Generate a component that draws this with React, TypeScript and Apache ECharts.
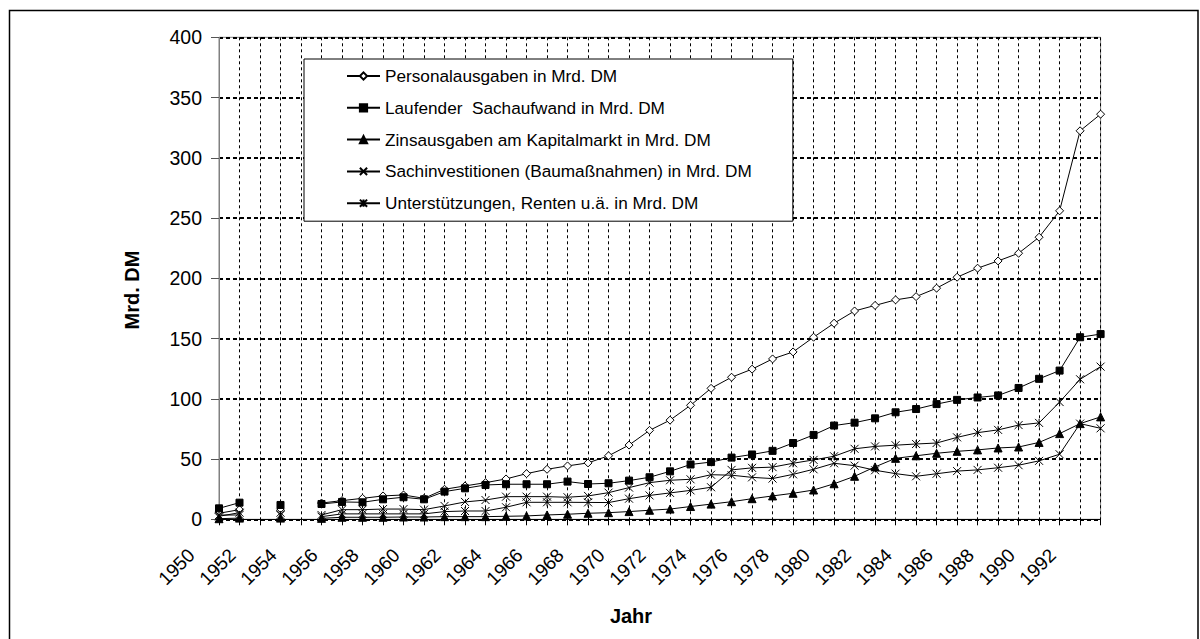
import React, { useEffect, useRef } from "react";
import * as echarts from "echarts";

const years: string[] = [];
for (let y = 1950; y <= 1993; y++) years.push(String(y));

const personal = [
  5, 8, null, 7.5, null, 13.5, 15.5, 17.4, 19.4, 20.2,
  17.4, 24.9, 27.7, 30.4, 33.5, 37.9, 41.5, 44.3, 46.8, 52.7,
  61.6, 73.8, 82.3, 94.6, 108.7, 117.9, 124.6, 133.1, 138.9, 151.1,
  162.7, 172.9, 177.5, 182.1, 184.8, 191.8, 200.9, 208.4, 214.4, 220.8,
  234.1, 256, 322.4, 336.2,
];
const laufend = [
  9.1, 13.8, null, 11.9, null, 12.7, 14.4, 14.1, 16.6, 18.3,
  16.6, 23.0, 25.7, 28.5, 29.1, 29.1, 29.1, 31.3, 29.3, 29.9,
  32.1, 34.9, 39.8, 45.5, 47.5, 51.2, 53.8, 56.8, 63.3, 70,
  77.8, 80.2, 83.8, 88.8, 91.5, 95.6, 99.1, 101.1, 102.8, 109,
  116.6, 123.4, 151.1, 153.7,
];
const zins = [
  0.5, 1.0, null, 1.0, null, 0.8, 1.7, 1.7, 1.7, 1.9,
  1.9, 2.2, 2.2, 2.2, 2.5, 2.8, 3.6, 4.2, 5.0, 5.5,
  6.4, 7.5, 8.5, 10.6, 12.6, 14.6, 17.1, 19.4, 21.6, 24.3,
  29.5, 35.7, 43.5, 50.6, 52.7, 54.8, 56.4, 57.6, 59.2, 60,
  63.8, 71.1, 79.4, 85,
];
const sachinv = [
  2.5, 5.5, null, 5.5, null, 3.6, 8, 8, 8.5, 8.5,
  8, 11.1, 14.4, 16.0, 18.8, 18.8, 18.8, 18.3, 19.4, 22.1,
  26.3, 30.4, 32.4, 33.2, 37, 36.6, 34.8, 33.8, 37.3, 41.5,
  46.5, 44.5, 40.7, 37.9, 35.7, 37.8, 40.0, 41.0, 42.8, 44.9,
  48.5, 54, 79.4, 75.5,
];
const unterst = [
  3.5, 3.6, null, 3.5, null, 2.2, 4.5, 4.5, 4.5, 4.5,
  4.5, 6.4, 6.9, 6.9, 10, 14.1, 14.1, 14.1, 14.0, 13.9,
  17.1, 19.8, 21.9, 24, 26.6, 41, 42.7, 43.3, 46.5, 49.3,
  52.3, 58.5, 60.5, 61.5, 62.5, 63.3, 68, 71.9, 74.2, 78.2,
  80, 97.3, 116.2, 126.7,
];

const seriesNames = [
  "Personalausgaben in Mrd. DM",
  "Laufender  Sachaufwand in Mrd. DM",
  "Zinsausgaben am Kapitalmarkt in Mrd. DM",
  "Sachinvestitionen (Baumaßnahmen) in Mrd. DM",
  "Unterstützungen, Renten u.ä. in Mrd. DM",
];

const FONT = "'Liberation Sans', Arial, sans-serif";

export default function App() {
  const ref = useRef<HTMLDivElement>(null);
  useEffect(() => {
    if (!ref.current) return;
    const chart = echarts.init(ref.current, null, { renderer: "svg" });
    const mk = (
      name: string,
      data: (number | null)[],
      symbol: string,
      size: number,
      fill: string,
    ) => ({
      name,
      type: "line",
      data,
      symbol,
      symbolSize: size,
      showAllSymbol: true,
      connectNulls: false,
      lineStyle: { color: "#000", width: 1 },
      itemStyle: { color: fill, borderColor: "#000", borderWidth: 1 },
      emphasis: { disabled: true },
      silent: true,
    });
    chart.setOption({
      animation: false,
      backgroundColor: "#fff",
      textStyle: { fontFamily: FONT },
      grid: {
        left: 219,
        right: 99.4,
        top: 37.3,
        bottom: 119.7,
        show: true,
        borderColor: "#808080",
        borderWidth: 1,
        backgroundColor: "transparent",
      },
      legend: {
        orient: "vertical",
        left: 304,
        top: 59,
        padding: [7, 41, 8, 42],
        itemGap: 11.8,
        itemWidth: 33,
        itemHeight: 9,
        backgroundColor: "#fff",
        borderColor: "#000",
        borderWidth: 1,
        selectedMode: false,
        textStyle: { fontSize: 17.2, color: "#000", fontFamily: FONT, lineHeight: 20 },
        data: seriesNames,
      },
      xAxis: {
        type: "category",
        data: years,
        boundaryGap: false,
        axisLine: { lineStyle: { color: "#000", width: 1 } },
        axisTick: { show: true, length: 6, interval: 0, lineStyle: { color: "#000" } },
        axisLabel: {
          interval: 1,
          rotate: 45,
          fontSize: 19,
          color: "#000",
          fontFamily: FONT,
          margin: 5,
          padding: [0, 39, 0, 0],
        },
        splitLine: {
          show: true,
          interval: 0,
          lineStyle: { color: "#000", width: 1, type: [3, 3] },
        },
      },
      yAxis: {
        type: "value",
        min: 0,
        max: 400,
        interval: 50,
        axisLine: { show: true, lineStyle: { color: "#808080", width: 1 } },
        axisTick: { show: true, length: 8, lineStyle: { color: "#555" } },
        axisLabel: { fontSize: 19.5, color: "#000", fontFamily: FONT, margin: 17 },
        splitLine: {
          show: true,
          lineStyle: { color: "#000", width: 2, type: [4, 3] },
        },
      },
      graphic: [
        {
          type: "rect",
          shape: { x: 9.5, y: 10.5, width: 1188.5, height: 640 },
          style: { fill: "none", stroke: "#000", lineWidth: 1.5 },
          silent: true,
          z: 100,
        },
        {
          type: "text",
          x: 131.5,
          y: 290,
          rotation: Math.PI / 2,
          style: {
            text: "Mrd. DM",
            fontSize: 20,
            fontWeight: "bold",
            fontFamily: FONT,
            fill: "#000",
            align: "center",
            verticalAlign: "middle",
          },
        },
        {
          type: "text",
          x: 631,
          y: 616,
          style: {
            text: "Jahr",
            fontSize: 20,
            fontWeight: "bold",
            fontFamily: FONT,
            fill: "#000",
            align: "center",
            verticalAlign: "middle",
          },
        },
      ],
      series: [
        mk(seriesNames[0], personal, "diamond", 8, "#fff"),
        mk(seriesNames[1], laufend, "rect", 7, "#000"),
        mk(seriesNames[2], zins, "triangle", 8, "#000"),
        mk(seriesNames[3], sachinv, "path://M0,0L10,10M10,0L0,10", 8, "none"),
        mk(seriesNames[4], unterst, "path://M0,0L10,10M10,0L0,10M5,0L5,10", 8, "none"),
      ],
    });
    return () => chart.dispose();
  }, []);
  return (
    <div
      ref={ref}
      style={{ position: "fixed", left: 0, top: 0, width: 1200, height: 639, background: "#fff" }}
    />
  );
}
